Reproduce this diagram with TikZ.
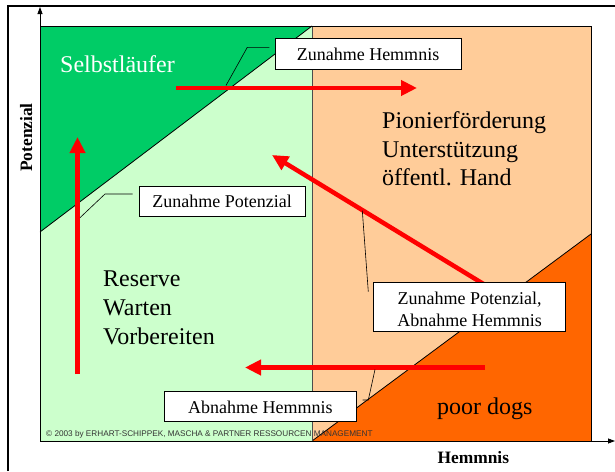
\documentclass[tikz,border=0pt]{standalone}
\usepackage{fontspec}
\setmainfont{Liberation Serif}
\newfontfamily\arialf{Liberation Sans}
\usetikzlibrary{arrows.meta}
\definecolor{dgreen}{HTML}{00CC66}
\definecolor{lgreen}{HTML}{CCFFCC}
\definecolor{lorange}{HTML}{FFCC99}
\definecolor{dorange}{HTML}{FF6600}
\definecolor{redarrow}{HTML}{FF0000}
\begin{document}
\begin{tikzpicture}[x=1pt,y=-1pt,
  bigtext/.style={anchor=base west, inner sep=0pt, font=\fontsize{24}{28}\selectfont, text=black},
  boxtext/.style={draw=black, line width=0.8pt, fill=white, inner sep=0pt, font=\fontsize{18}{22.7}\selectfont, text height=13.5pt, text depth=0pt},
  callout/.style={draw=black, line width=0.6pt},
  redarr/.style={draw=redarrow, line width=4.5pt, -{Triangle[length=16pt,width=15pt]}},
  axis/.style={draw=black, line width=0.8pt, -{Triangle[length=7pt,width=5pt]}},
  axlabel/.style={inner sep=0pt, font=\bfseries\fontsize{17.4}{20}\selectfont}
]
\useasboundingbox (0,0) rectangle (615,471);
% outer frame
\draw[line width=1.5pt] (8,471) -- (8,6) -- (615,6);
% regions
\fill[lgreen] (40,26) rectangle (312,441);
\fill[lorange] (312,26) rectangle (591,441);
\fill[dgreen] (40,26) -- (312,26) -- (40,232) -- cycle;
\fill[dorange] (312,441) -- (591,441) -- (591,234) -- cycle;
\draw[line width=0.8pt] (40,232) -- (312,26);
\draw[line width=0.8pt] (312,441) -- (591,234);
\draw[line width=0.6pt, black!70] (312,26) -- (312,441);
\draw[line width=0.8pt] (40,26) rectangle (591,441);
% axes
\coordinate (origin) at (40,441);
\coordinate (ytip) at (40,7);
\coordinate (xtip) at (615,441);
\draw[axis] (origin) -- (ytip);
\draw[axis] (origin) -- (xtip);
% region labels
\node[bigtext, text=white] (selbst) at (60,72) {Selbstläufer};
\node[bigtext] (pion1) at (382,128) {Pionierförderung};
\node[bigtext] (pion2) at (382,157) {Unterstützung};
\node[bigtext] (pion3) at (382,185) {öffentl. Hand};
\node[bigtext] (res1) at (103,286) {Reserve};
\node[bigtext] (res2) at (103,315) {Warten};
\node[bigtext] (res3) at (103,344) {Vorbereiten};
\node[bigtext] (poor) at (437,414) {poor dogs};
% red arrows
\coordinate (a1s) at (176,88);   \coordinate (a1e) at (417,88);
\coordinate (a2s) at (77.5,374); \coordinate (a2e) at (77.5,137);
\coordinate (a3s) at (495,291);  \coordinate (a3e) at (272,155);
\coordinate (a4s) at (485,367.5);\coordinate (a4e) at (245,367.5);
\draw[redarr] (a1s) -- (a1e);
\draw[redarr] (a2s) -- (a2e);
\draw[redarr] (a3s) -- (a3e);
\draw[redarr] (a4s) -- (a4e);
% boxes
\node[boxtext, minimum width=186pt, minimum height=31pt] (box1) at (368,53.5) {Zunahme Hemmnis};
\node[boxtext, minimum width=166pt, minimum height=30pt] (box2) at (222,201) {Zunahme Potenzial};
\node[boxtext, minimum width=192pt, minimum height=48.5pt, align=center, text height=40pt] (box3) at (469.6,306.75) {Zunahme Potenzial,\\Abnahme Hemmnis};
\node[boxtext, minimum width=192pt, minimum height=30pt] (box4) at (260.4,406.7) {Abnahme Hemmnis};
% callouts
\coordinate (c1a) at (269.3,47.3); \coordinate (c1b) at (247.3,47.3); \coordinate (c1c) at (226,85.5);
\coordinate (c2a) at (132.7,194);  \coordinate (c2b) at (105,194);    \coordinate (c2c) at (80,217.7);
\coordinate (c3a) at (368.3,291.7); \coordinate (c3b) at (362.3,210.7);
\coordinate (c4a) at (362.7,400);  \coordinate (c4b) at (368.3,400);  \coordinate (c4c) at (375,369.5);
\draw[callout] (c1a) -- (c1b) -- (c1c);
\draw[callout] (c2a) -- (c2b) -- (c2c);
\draw[callout] (c3a) -- (c3b);
\draw[callout] (c4a) -- (c4b) -- (c4c);
% copyright
\node[anchor=base west, inner sep=0pt, font=\arialf\fontsize{8.2}{10}\selectfont, text=black!80] (copy) at (46,436) {© 2003 by ERHART-SCHIPPEK, MASCHA \& PARTNER RESSOURCEN MANAGEMENT};
% axis labels
\node[axlabel, rotate=90, anchor=base] (ylab) at (32,137.5) {Potenzial};
\node[axlabel, anchor=base west] (xlab) at (437.3,463.3) {Hemmnis};
\end{tikzpicture}
\end{document}
